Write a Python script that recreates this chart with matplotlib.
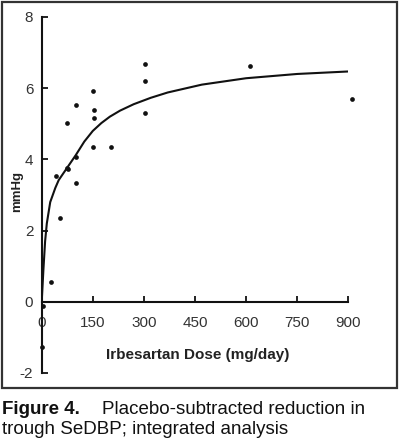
import matplotlib
matplotlib.use("Agg")
import matplotlib.pyplot as plt
from matplotlib.patches import Rectangle

plt.rcParams["font.family"] = ["Liberation Sans", "DejaVu Sans"]

# observed placebo-subtracted reductions (dose mg/day, mmHg)
dose = [0, 3, 28, 41, 54, 75, 75, 77, 100, 100, 101, 150, 152, 153, 153, 202, 303, 303, 303, 610, 910]
reduction = [-1.27, -0.13, 0.57, 3.52, 2.36, 5.02, 3.75, 3.72, 4.07, 3.35, 5.54, 4.36, 5.92, 5.40, 5.17,
             4.36, 6.67, 6.21, 5.31, 6.63, 5.71]

# fitted curve
fit_dose = [0, 5, 10, 15, 25, 40, 50, 75, 100, 125, 150, 175, 200, 230, 270, 320, 370, 470, 600, 750, 900]
fit_value = [0.0, 0.9, 1.7, 2.2, 2.8, 3.2, 3.42, 3.77, 4.12, 4.5, 4.8, 5.02, 5.2, 5.37, 5.55, 5.73, 5.88,
             6.1, 6.28, 6.4, 6.47]

x_ticks = [0, 150, 300, 450, 600, 750, 900]
y_ticks = [-2, 0, 2, 4, 6, 8]

INK = "#111111"

fig = plt.figure(figsize=(4.0, 4.43), dpi=100)
ax = fig.add_axes([41.7 / 400, 1 - 373 / 443, (348.3 - 41.7) / 400, (373 - 17) / 443])

ax.plot(fit_dose, fit_value, color=INK, lw=1.5, solid_capstyle="butt", zorder=3)
ax.plot(dose, reduction, "o", color=INK, ms=3.4, mec="none", clip_on=False, zorder=4)

ax.set_xlim(0, 900)
ax.set_ylim(-2, 8)
ax.set_xticks(x_ticks)
ax.set_yticks(y_ticks)
ax.set_xticklabels([str(v) for v in x_ticks])
ax.set_yticklabels([str(v) for v in y_ticks])

for side in ["top", "right"]:
    ax.spines[side].set_visible(False)
ax.spines["bottom"].set_position(("data", 0))
for side in ["left", "bottom"]:
    ax.spines[side].set_linewidth(1.5)
    ax.spines[side].set_color(INK)

ax.tick_params(axis="x", direction="in", length=4, width=1.3, pad=10,
               labelsize=11, labelcolor="#333333", color=INK)
ax.tick_params(axis="y", direction="in", length=4, width=1.3, pad=6,
               labelsize=11, labelcolor="#333333", color=INK)

fig.text(17 / 400, 1 - 192 / 443, "mmHg", rotation=90, ha="center", va="center",
         fontsize=9.5, fontweight="bold", color="#222222")
fig.text(198 / 400, 1 - 355 / 443, "Irbesartan Dose (mg/day)", ha="center", va="center",
         fontsize=11, fontweight="bold", color="#222222")

fig.patches.append(Rectangle((2 / 400, 1 - 388 / 443), 395 / 400, 386 / 443,
                             transform=fig.transFigure, fill=False, lw=1.6,
                             edgecolor="#333333"))

fig.text(2 / 400, 1 - 409 / 443, "Figure 4.", ha="left", va="center",
         fontsize=13.5, fontweight="bold", color=INK)
fig.text(102 / 400, 1 - 409 / 443, "Placebo-subtracted reduction in", ha="left", va="center",
         fontsize=13.5, color=INK)
fig.text(2 / 400, 1 - 429 / 443, "trough SeDBP; integrated analysis", ha="left", va="center",
         fontsize=13.5, color=INK)

fig.savefig("out.png", dpi=100, facecolor="white")
